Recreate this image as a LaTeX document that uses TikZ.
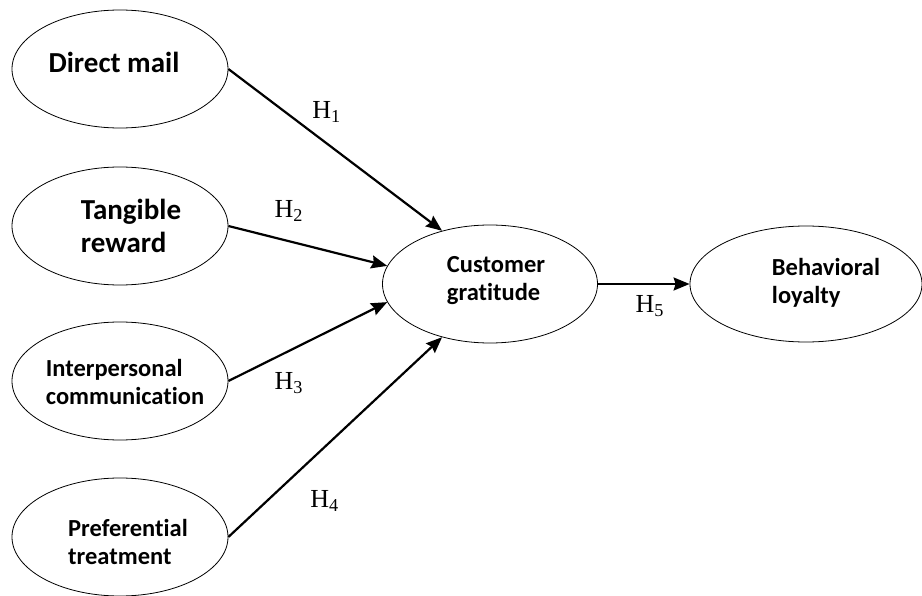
\documentclass[tikz,border=0pt]{standalone}
\usepackage{fontspec}
\setmainfont{Liberation Serif}
\newfontfamily\boxfont[Ligatures=NoCommon]{Carlito}
\usetikzlibrary{shapes.geometric, arrows.meta}
\tikzset{
  construct/.style={
    ellipse, draw=black, line width=0.8pt,
    minimum width=216pt, minimum height=118pt,
    inner sep=0pt
  },
  big/.style={
    align=left, font=\boxfont\bfseries\fontsize{29}{33}\selectfont
  },
  small/.style={
    align=left, font=\boxfont\bfseries\fontsize{24.5}{28}\selectfont
  },
  path/.style={
    line width=2.2pt, -{Stealth[length=16pt, width=13pt, inset=2pt]}
  },
  hyp/.style={
    font=\fontsize{26}{28}\selectfont
  }
}

\begin{document}
\begin{tikzpicture}[x=1pt, y=-1pt]
  \useasboundingbox (0,0) rectangle (922,596);
  \node[construct, label={[big, xshift=-6pt, yshift=7pt]center:Direct mail}] (mail) at (120,69) {};
  \node[construct, label={[big, xshift=11pt]center:Tangible\\reward}] (reward) at (120,226) {};
  \node[construct, label={[small, xshift=5pt, yshift=-1pt]center:Interpersonal\\communication}] (comm) at (120,381) {};
  \node[construct, label={[small, xshift=8pt, yshift=-5pt]center:Preferential\\treatment}] (pref) at (120,537) {};
  \node[construct, minimum width=215pt, label={[small, xshift=6pt, yshift=3pt]center:Customer\\gratitude}] (grat) at (490,284) {};
  \node[construct, minimum width=232pt, minimum height=116pt, label={[small, xshift=20pt, yshift=1pt]center:Behavioral\\loyalty}] (loyal) at (806,284) {};

  \draw[path] (mail.east) -- (grat.132) node[hyp, pos=0.45, xshift=2pt, yshift=30pt] {H\textsubscript{1}};
  \draw[path] (reward.east) -- (grat.170) node[hyp, pos=0.38, yshift=30pt] {H\textsubscript{2}};
  \draw[path] (comm.east) -- (grat.190) node[hyp, pos=0.38, yshift=-32pt] {H\textsubscript{3}};
  \draw[path] (pref.east) -- (grat.228) node[hyp, pos=0.45, yshift=-54pt] {H\textsubscript{4}};
  \draw[path] (grat.east) -- (loyal.west) node[hyp, midway, xshift=6pt, yshift=-22pt] {H\textsubscript{5}};
\end{tikzpicture}
\end{document}
